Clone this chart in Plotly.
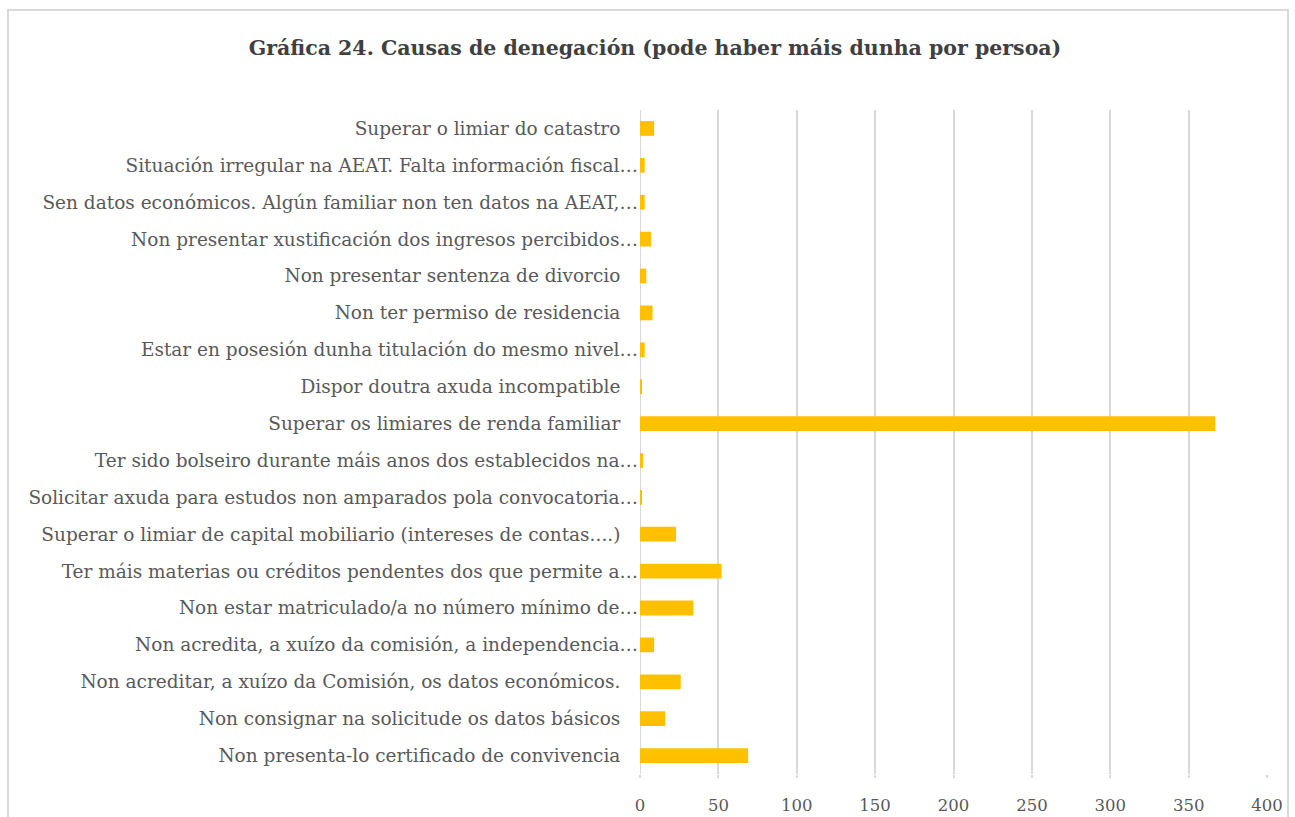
import plotly.graph_objects as go

categories = [
    "Non presenta-lo certificado de convivencia",
    "Non consignar na solicitude os datos básicos",
    "Non acreditar, a xuízo da Comisión, os datos económicos.",
    "Non acredita, a xuízo da comisión, a independencia…",
    "Non estar matriculado/a no número mínimo de…",
    "Ter máis materias ou créditos pendentes dos que permite a…",
    "Superar o limiar de capital mobiliario (intereses de contas....)",
    "Solicitar axuda para estudos non amparados pola convocatoria…",
    "Ter sido bolseiro durante máis anos dos establecidos na…",
    "Superar os limiares de renda familiar",
    "Dispor doutra axuda incompatible",
    "Estar en posesión dunha titulación do mesmo nivel…",
    "Non ter permiso de residencia",
    "Non presentar sentenza de divorcio",
    "Non presentar xustificación dos ingresos percibidos…",
    "Sen datos económicos. Algún familiar non ten datos na AEAT,…",
    "Situación irregular na AEAT. Falta información fiscal…",
    "Superar o limiar do catastro",
]
values = [69, 16, 26, 9, 34, 52, 23, 1, 2, 367, 1, 3, 8, 4, 7, 3, 3, 9]
x_ticks = [0, 50, 100, 150, 200, 250, 300, 350, 400]

W, H = 1295, 817
ml, mr, mt, mb = 639.5, 28, 110, 42.5
pw = W - ml - mr
ph = H - mt - mb

def px(xp):
    return (xp - ml) / pw

def py(yp):
    return (H - mb - yp) / ph

FONT = "DejaVu Serif"
PAD = "\u00a0\u00a0\u00a0"
y_ticktext = [c if c.endswith("…") else c + PAD for c in categories]

fig = go.Figure(go.Bar(
    y=categories, x=values, orientation="h",
    marker=dict(color="#FFC000", line=dict(width=0)),
    hoverinfo="x+y",
))

fig.update_layout(
    width=W, height=H,
    margin=dict(l=ml, r=mr, t=mt, b=mb, autoexpand=False),
    paper_bgcolor="white", plot_bgcolor="white",
    bargap=0.6,
    showlegend=False,
    font=dict(family=FONT, color="#595959", size=16),
    title=dict(
        text="<b>Gráfica 24. Causas de denegación (pode haber máis dunha por persoa)</b>",
        x=655 / W, xanchor="center", xref="container",
        y=1 - 48 / H, yanchor="middle", yref="container",
        font=dict(family=FONT, size=20.5, color="#404040"),
    ),
    xaxis=dict(
        range=[0, 400], tickvals=x_ticks, ticktext=[str(v) for v in x_ticks],
        showgrid=True, gridcolor="#D9D9D9", gridwidth=2,
        zeroline=False, showline=False, ticks="outside", ticklen=3,
        tickcolor="#D9D9D9", tickwidth=2,
        ticklabelstandoff=13, automargin=False,
        tickfont=dict(size=16.5, color="#595959"),
        fixedrange=True,
    ),
    yaxis=dict(
        tickmode="array", tickvals=categories, ticktext=y_ticktext,
        showgrid=False, zeroline=False, showline=False,
        ticks="", ticklabelstandoff=1, automargin=False,
        tickfont=dict(size=18.5, color="#595959"),
        fixedrange=True,
    ),
    shapes=[
        dict(type="rect", xref="paper", yref="paper",
             x0=px(7), x1=px(1288), y0=py(840), y1=py(10),
             line=dict(color="#D9D9D9", width=2), fillcolor="rgba(0,0,0,0)",
             layer="below"),
        dict(type="line", xref="x", yref="paper", x0=0, x1=0, y0=0, y1=1,
             line=dict(color="#D9D9D9", width=2), layer="below"),
    ],
)

fig.write_html("out.html", config={"displayModeBar": False},
               post_script="document.body.style.margin='0';")
